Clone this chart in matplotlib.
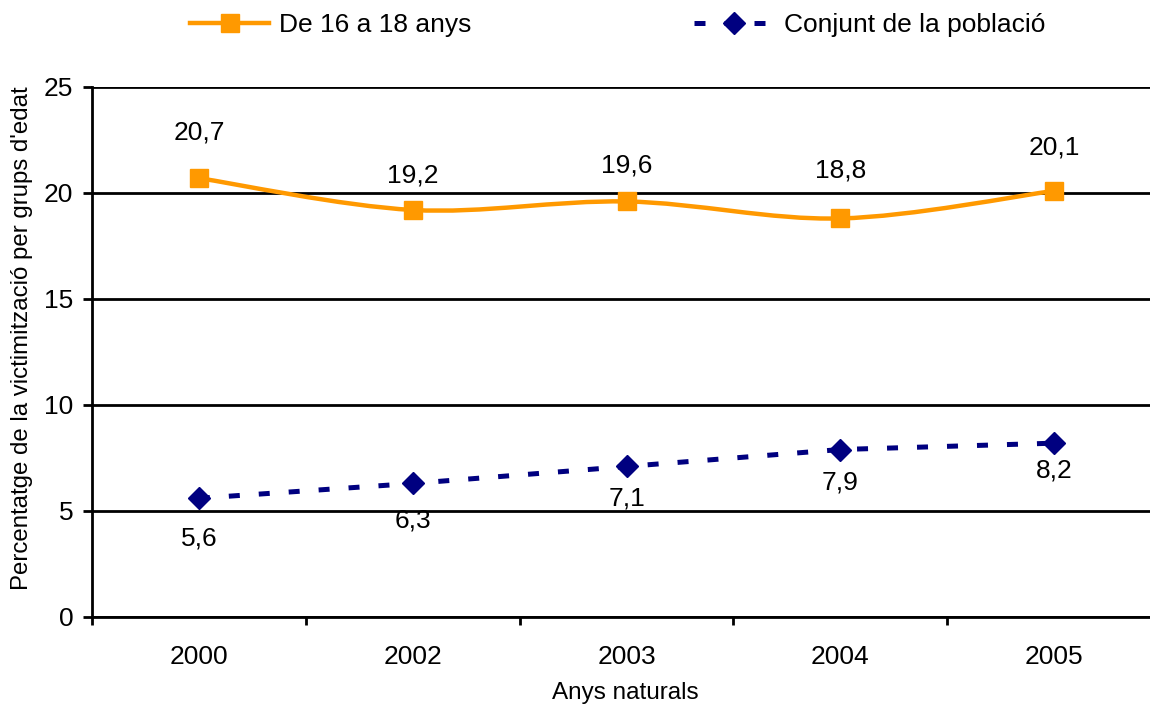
import matplotlib.pyplot as plt
from matplotlib.path import Path
from matplotlib.patches import PathPatch
from matplotlib.lines import Line2D

plt.rcParams['font.family'] = ['Liberation Sans', 'DejaVu Sans']

# Data
years = ['2000', '2002', '2003', '2004', '2005']
joves = [20.7, 19.2, 19.6, 18.8, 20.1]
conjunt = [5.6, 6.3, 7.1, 7.9, 8.2]
label_joves = 'De 16 a 18 anys'
label_conjunt = 'Conjunt de la població'

# label offsets (points) as placed in the original
off_joves = [33, 24.5, 26, 34.5, 31]
off_conjunt = [-29, -26.5, -23, -24, -20]

orange = '#FF9900'
navy = '#000080'
fs = 19


def smooth_path(xs, ys):
    # Excel-style smoothed line: cubic bezier through the points
    pts = list(zip(xs, ys))
    n = len(pts)
    verts = [pts[0]]
    codes = [Path.MOVETO]
    for i in range(n - 1):
        p0 = pts[i - 1] if i > 0 else pts[i]
        p1 = pts[i]
        p2 = pts[i + 1]
        p3 = pts[i + 2] if i + 2 < n else pts[i + 1]
        c1 = (p1[0] + (p2[0] - p0[0]) / 6, p1[1] + (p2[1] - p0[1]) / 6)
        c2 = (p2[0] - (p3[0] - p1[0]) / 6, p2[1] - (p3[1] - p1[1]) / 6)
        verts += [c1, c2, p2]
        codes += [Path.CURVE4] * 3
    return Path(verts, codes)


fig = plt.figure(figsize=(11.5, 7.06), dpi=100)
ax = fig.add_axes([92 / 1150, 89 / 706, 1069 / 1150, 530 / 706])

x = list(range(len(years)))
dash = (0, (2.2, 3.8))

# orange smoothed line + square markers
ax.add_patch(PathPatch(smooth_path(x, joves), facecolor='none', edgecolor=orange,
                       lw=3.2, zorder=3, clip_on=False))
ax.plot(x, joves, ls='none', marker='s', ms=13, color=orange, zorder=4)

# navy dashed line + diamonds
ax.plot(x, conjunt, ls=dash, lw=3.6, color=navy, marker='D', ms=11,
        dash_capstyle='butt', zorder=4)

for xi, v, o in zip(x, joves, off_joves):
    ax.annotate(f'{v:.1f}'.replace('.', ','), (xi, v), xytext=(0, o),
                textcoords='offset points', ha='center', va='center', fontsize=fs)
for xi, v, o in zip(x, conjunt, off_conjunt):
    ax.annotate(f'{v:.1f}'.replace('.', ','), (xi, v), xytext=(0, o),
                textcoords='offset points', ha='center', va='center', fontsize=fs)

ax.set_xlim(-0.5, 4.5)
ax.set_ylim(0, 25)
ax.set_yticks([0, 5, 10, 15, 20, 25])
ax.set_xticks(x)
ax.set_xticklabels(years)
ax.set_xticks([i - 0.5 for i in range(len(years) + 1)], minor=True)
ax.tick_params(axis='x', which='major', length=0, pad=20, labelsize=fs)
ax.tick_params(axis='x', which='minor', length=6, width=2, direction='out')
ax.tick_params(axis='y', length=6.5, width=2, direction='out', labelsize=fs, pad=7)

ax.yaxis.grid(True, color='black', lw=2)
ax.set_axisbelow(True)
for s in ['top', 'right']:
    ax.spines[s].set_visible(False)
for s in ['left', 'bottom']:
    ax.spines[s].set_linewidth(2)

ax.set_xlabel('Anys naturals', fontsize=17.5)
ax.xaxis.set_label_coords(0.4986, (617 - 693) / 530)
ax.xaxis.label.set_va('center')
ax.set_ylabel("Percentatge de la victimització per grups d'edat", fontsize=17.3)
ax.yaxis.set_label_coords((22 - 92) / 1069, (617 - 338) / 530)
ax.yaxis.label.set_va('center')

handles = [
    Line2D([], [], color=orange, lw=3.2, marker='s', ms=13),
    Line2D([], [], color=navy, lw=3.6, ls=dash, marker='D', ms=11,
           dash_capstyle='butt'),
]
fig.legend(handles, [label_joves, label_conjunt], loc='center',
           bbox_to_anchor=(617.5 / 1150, 1 - 25 / 706), ncol=2, frameon=False,
           fontsize=fs, handlelength=3.0, handletextpad=0.38, columnspacing=8.45)

fig.savefig('out.png', dpi=100)
